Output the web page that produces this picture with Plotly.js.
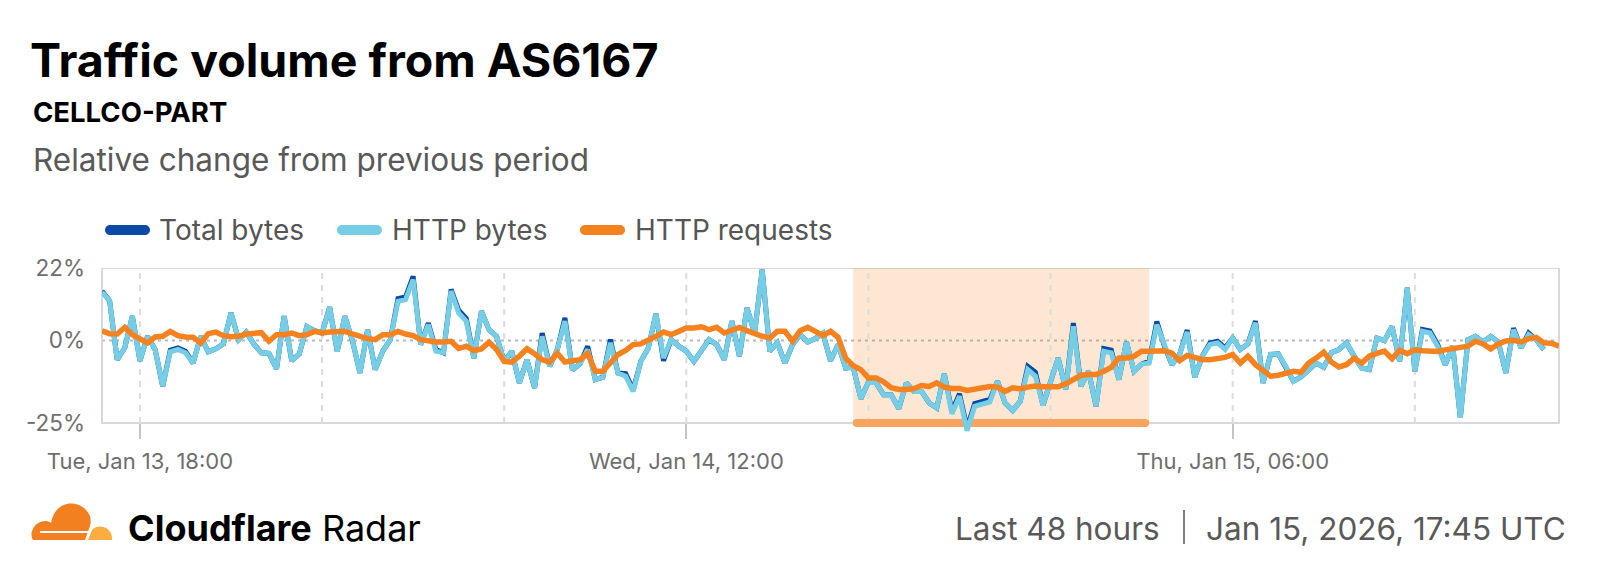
<!DOCTYPE html>
<html><head><meta charset="utf-8">
<script src="https://cdn.plot.ly/plotly-3.0.1.min.js"></script>
<style>html,body{margin:0;padding:0;background:#fff;}#chart{width:1600px;height:574px;}</style>
</head><body><div id="chart"></div>
<script>
// ---- data (15-minute steps starting Jan 13 16:45 UTC) ----
const START_UTC = Date.UTC(2026, 0, 13, 16, 45);
const STEP_MIN = 15;

const totalBytes = [
15.0,12.1,-5.8,-2.2,7.4,-6.1,1.3,-2.7,-13.8,-2.9,-2.2,-3.2,-6.8,1.3,-3.4,-2.5,-1.0,8.4,0.3,2.6,
-1.0,-3.7,-3.9,-8.6,7.4,-6.1,-4.0,4.3,3.0,2.3,10.1,-3.3,7.4,0.0,-9.8,3.3,-8.8,-3.2,0.3,12.7,
13.2,19.5,-1.2,5.3,-2.7,-3.7,15.5,9.2,6.7,-5.3,8.9,3.3,1.3,-6.3,-3.2,-12.8,-5.8,-14.3,2.3,-7.8,
-2.7,6.9,-8.9,-7.0,-1.7,-11.8,-11.1,0.3,-9.8,-10.0,-14.9,-6.3,-2.2,8.1,-6.1,0.3,-1.7,-3.2,-6.3,-3.2,
0.3,-1.2,-5.8,5.9,-4.7,9.9,2.3,21.5,-3.2,-0.7,-6.8,-1.2,1.8,-0.4,0.6,2.2,-6.1,-1.2,-8.3,-8.1,
-17.6,-12.5,-12.8,-16.4,-16.4,-20.6,-12.8,-15.4,-15.4,-18.9,-20.4,-10.1,-21.4,-16.1,-26.5,-19.1,-18.6,-17.8,-12.3,-18.9,
-21.2,-18.4,-7.8,-9.6,-19.6,-12.0,-5.3,-14.8,5.3,-13.8,-9.3,-19.9,-2.4,-2.9,-11.8,-0.4,-9.3,-7.1,-6.2,5.8,
-1.7,-7.3,-4.2,3.2,-11.1,-4.7,-0.7,-0.2,-2.2,0.8,-2.7,-1.0,5.9,-12.8,-4.2,-4.0,-7.8,-12.3,-11.0,-8.8,
-6.8,-8.1,-3.7,-2.7,-0.7,-4.7,-8.3,-8.8,0.8,0.0,4.3,-6.3,16.0,-9.3,3.4,2.9,-1.1,-7.3,-1.7,-23.4,
0.3,1.3,-0.4,1.3,-0.4,-9.8,3.8,-2.2,2.3,0.3,-2.7
];

const httpBytes = [
14.7,12.1,-5.8,-2.2,7.4,-6.1,1.3,-2.7,-13.8,-3.4,-2.7,-3.7,-6.8,1.3,-3.4,-2.5,-1.0,8.4,0.3,2.6,
-1.0,-3.7,-3.9,-8.6,7.4,-6.1,-4.0,4.3,3.0,2.3,10.1,-3.3,7.4,0.0,-9.8,3.3,-8.8,-3.2,0.3,11.9,
12.4,18.5,-1.2,4.8,-3.2,-3.7,15.0,8.4,5.9,-5.3,8.9,3.3,1.3,-6.3,-3.2,-12.8,-5.8,-14.3,1.3,-7.8,
-2.7,5.9,-8.9,-7.0,-2.7,-11.8,-11.1,-0.7,-9.8,-10.8,-15.4,-6.3,-2.2,8.1,-5.3,0.3,-1.7,-3.2,-6.3,-3.2,
0.3,-1.2,-5.8,5.9,-4.7,9.9,2.3,21.5,-3.2,-0.7,-6.8,-1.2,1.8,-0.4,0.6,2.2,-6.1,-1.2,-8.3,-8.1,
-17.6,-12.5,-12.8,-16.4,-16.4,-20.6,-12.8,-15.4,-15.4,-18.9,-20.4,-10.1,-22.2,-16.9,-27.3,-19.9,-19.4,-18.6,-12.3,-18.9,
-21.2,-18.4,-8.8,-10.8,-19.6,-12.0,-5.3,-14.8,4.3,-13.8,-9.3,-19.9,-3.2,-3.7,-11.8,-0.4,-9.3,-7.1,-6.8,4.8,
-1.7,-7.3,-4.2,2.6,-11.1,-4.7,-1.2,-0.7,-2.7,0.8,-2.7,-1.0,5.4,-12.8,-4.2,-4.0,-7.8,-12.3,-11.0,-8.8,
-6.8,-8.1,-3.7,-2.7,-0.7,-4.7,-8.3,-8.8,0.8,0.0,4.3,-6.3,16.0,-9.3,2.8,2.3,-1.7,-7.3,-1.7,-23.4,
0.3,1.3,-0.4,1.3,-0.4,-9.8,3.3,-2.2,1.8,0.3,-2.7
];

const httpRequests = [
3.0,2.1,2.0,4.0,1.8,0.6,-0.7,1.1,1.3,2.8,1.5,1.1,1.0,-0.7,2.1,2.6,1.5,1.2,1.3,2.0,
2.2,2.4,-0.2,1.8,1.8,2.3,1.5,1.8,2.8,2.3,2.6,2.8,2.8,2.0,1.1,0.6,0.3,1.8,1.8,2.8,
2.0,1.5,0.3,-0.2,-0.4,-0.4,-0.2,-2.4,-1.7,-3.0,-2.5,-0.5,-2.7,-6.3,-6.5,-4.7,-2.5,-4.0,-5.8,-6.5,
-3.8,-6.5,-6.3,-5.8,-3.9,-9.3,-9.3,-6.5,-4.2,-3.0,-1.2,-1.0,0.0,1.3,2.6,1.8,2.8,3.8,3.8,4.2,
3.3,4.0,2.3,3.2,4.0,3.0,2.1,1.3,0.8,2.8,2.8,-0.2,3.0,4.0,2.8,1.5,2.8,1.0,-5.3,-7.6,
-8.8,-11.3,-11.3,-12.5,-14.3,-14.8,-14.8,-14.5,-13.6,-13.9,-12.8,-14.1,-14.5,-14.5,-15.1,-14.8,-14.3,-13.9,-14.1,-15.4,
-14.3,-14.6,-14.1,-13.8,-14.0,-14.0,-14.0,-13.1,-11.8,-10.5,-10.3,-10.3,-9.3,-8.1,-5.3,-5.3,-4.7,-3.2,-3.2,-3.1,
-3.1,-3.8,-6.1,-4.5,-5.3,-5.7,-5.8,-5.6,-5.1,-4.2,-6.8,-4.7,-7.3,-9.1,-10.8,-10.5,-10.0,-9.3,-9.6,-6.8,
-5.3,-3.5,-6.5,-8.0,-7.3,-5.3,-6.8,-4.7,-3.9,-3.2,-5.5,-2.9,-4.0,-2.8,-3.1,-3.2,-3.3,-2.8,-2.5,-2.1,
-1.7,-0.2,-1.0,-2.5,-1.0,-0.1,0.1,-0.4,0.6,1.0,-0.7,-0.8,-1.7
];

const seriesNames  = ['Total bytes', 'HTTP bytes', 'HTTP requests'];
const seriesColors = ['#0a4aa6', '#76cde6', '#f6821f'];
const seriesWidths = [5, 5, 5.5];

const yTickVals = [22, 0, -25];
const yTickText = ['22%', '0%', '-25%'];
const xTickVals = ['2026-01-13 18:00', '2026-01-14 12:00', '2026-01-15 06:00'];
const xTickText = ['Tue, Jan 13, 18:00', 'Wed, Jan 14, 12:00', 'Thu, Jan 15, 06:00'];
const gridTimes = ['2026-01-13 18:00','2026-01-14 00:00','2026-01-14 06:00','2026-01-14 12:00',
                   '2026-01-14 18:00','2026-01-15 00:00','2026-01-15 06:00','2026-01-15 12:00'];
const highlightSpan = ['2026-01-14 17:30', '2026-01-15 03:15'];
const xRange = ['2026-01-13 16:45', '2026-01-15 16:45'];
const yFrame = [-25, 22];
const yRange = [-28, 22];

// ---- helpers ----
function fmt(ms){
  const d = new Date(ms), p = n => String(n).padStart(2,'0');
  return d.getUTCFullYear()+'-'+p(d.getUTCMonth()+1)+'-'+p(d.getUTCDate())+' '+p(d.getUTCHours())+':'+p(d.getUTCMinutes());
}
const timesFor = arr => arr.map((_, i) => fmt(START_UTC + i*STEP_MIN*60000));

const W = 1600, H = 574;
const M = {l: 102, r: 41, t: 268, b: 141};
const PW = W - M.l - M.r, PH = H - M.t - M.b;
const X = px => (px - M.l) / PW;          // page px -> paper x
const Y = py => (H - M.b - py) / PH;      // page py -> paper y
function path(cmds){
  return cmds.map(c => {
    const k = c[0], v = c.slice(1), out = [];
    for (let i = 0; i < v.length; i += 2) out.push(X(v[i]).toFixed(5) + ',' + Y(v[i+1]).toFixed(5));
    return k + out.join(' ');
  }).join(' ') + ' Z';
}
function pill(x0, yc, w, h){
  const r = h/2, k = 0.5523*r, x1 = x0 + w;
  return path([['M', x0+r, yc-r], ['L', x1-r, yc-r],
    ['C', x1-r+k, yc-r, x1, yc-k, x1, yc], ['C', x1, yc+k, x1-r+k, yc+r, x1-r, yc+r],
    ['L', x0+r, yc+r], ['C', x0+r-k, yc+r, x0, yc+k, x0, yc], ['C', x0, yc-k, x0+r-k, yc-r, x0+r, yc-r]]);
}

// ---- traces ----
const seriesData = [totalBytes, httpBytes, httpRequests];
const traces = seriesData.map((vals, i) => ({
  type: 'scatter', mode: 'lines', name: seriesNames[i],
  x: timesFor(vals), y: vals,
  line: {color: seriesColors[i], width: seriesWidths[i], shape: 'linear'},
  hoverinfo: 'skip'
}));

// ---- shapes ----
const FONT = 'Inter, "Noto Sans", sans-serif';
const shapes = [];
shapes.push({type:'rect', xref:'x', yref:'y', x0: highlightSpan[0], x1: highlightSpan[1], y0: yFrame[0], y1: yFrame[1],
  fillcolor:'rgba(246,130,31,0.2)', line:{width:0}, layer:'below'});
gridTimes.forEach(t => shapes.push({type:'line', xref:'x', yref:'y', x0:t, x1:t, y0:yFrame[0], y1:yFrame[1],
  line:{color:'#dcdcdc', width:2, dash:'6px,6px'}, layer:'below'}));
shapes.push({type:'line', xref:'paper', yref:'y', x0:0, x1:1, y0:0, y1:0,
  line:{color:'#b9b9b9', width:2, dash:'3px,4px'}, layer:'below'});
shapes.push({type:'rect', xref:'paper', yref:'y', x0:0, x1:1, y0:yFrame[0], y1:yFrame[1],
  line:{color:'#d9d9d9', width:2}, fillcolor:'rgba(0,0,0,0)', layer:'below'});
// highlight bar under the shaded span (rounded ends)
const capMs = 4 / (PW / (48*3600000));
const hs0 = Date.parse(highlightSpan[0].replace(' ','T')+':00Z'), hs1 = Date.parse(highlightSpan[1].replace(' ','T')+':00Z');
const barColor = '#f8a35e';
shapes.push({type:'line', xref:'x', yref:'y', x0: fmt(hs0+capMs), x1: fmt(hs1-capMs), y0: yFrame[0], y1: yFrame[0],
  line:{color:barColor, width:8}, layer:'below'});
[hs0+capMs, hs1-capMs].forEach(t => shapes.push({type:'circle', xref:'x', yref:'y', xsizemode:'pixel', ysizemode:'pixel',
  xanchor: fmt(t), yanchor: yFrame[0], x0:-4, x1:4, y0:-4, y1:4, fillcolor:barColor, line:{width:0}, layer:'below'}));

// legend (custom pills)
const legendSwatchX = [105, 337, 580], legendTextX = [157, 390, 633], legendY = 230;
seriesNames.forEach((n, i) => shapes.push({type:'path', xref:'paper', yref:'paper', path: pill(legendSwatchX[i], legendY, 45, 10),
  fillcolor: seriesColors[i], line:{width:0}}));

// logo
shapes.push({type:'path', xref:'paper', yref:'paper', fillcolor:'#f38020', line:{width:0}, path: path([
  ['M', 33, 540], ['C', 31, 537, 31, 532, 33, 529], ['C', 35, 524, 40, 521, 46, 521], ['C', 48, 521, 50, 522, 51, 523],
  ['C', 53, 511, 61, 503.5, 71, 503.5], ['C', 80, 503.5, 87, 509, 90, 516], ['C', 91, 520, 91, 523, 90, 526], ['L', 85, 540]])});
shapes.push({type:'path', xref:'paper', yref:'paper', fillcolor:'#fbad41', line:{width:0}, path: path([
  ['M', 88, 540], ['L', 92, 530], ['C', 94, 527.5, 97, 526.5, 100, 526.5], ['C', 107, 526.5, 112, 532, 112, 538], ['L', 112, 540]])});
shapes.push({type:'line', xref:'paper', yref:'paper', x0:X(40), x1:X(88), y0:Y(532), y1:Y(532), line:{color:'#ffffff', width:2}});
// footer separator
shapes.push({type:'line', xref:'paper', yref:'paper', x0:X(1184), x1:X(1184), y0:Y(510), y1:Y(544), line:{color:'#555555', width:1.5}});

// ---- annotations ----
const ann = (text, px, py, size, color, anchor, extra) => Object.assign({
  text, xref:'paper', yref:'paper', x: X(px), y: Y(py), xanchor: anchor || 'left', yanchor:'middle',
  showarrow:false, font:{family:FONT, size, color}}, extra || {});
const annotations = [
  ann('<b>CELLCO-PART</b>', 31, 112, 27.5, '#000000'),
  ann('Relative change from previous period', 31, 159, 31.5, '#595959'),
  ann('<b>Cloudflare</b> Radar', 126, 528, 36, '#000000'),
  ann('Last 48 hours', 1162, 528, 31.5, '#595959', 'right'),
  ann('Jan 15, 2026, 17:45 UTC', 1568, 528, 31.5, '#595959', 'right')
];
seriesNames.forEach((n, i) => annotations.push(ann(n, legendTextX[i], legendY, 28, '#555555')));

const layout = {
  width: W, height: H, margin: M,
  paper_bgcolor:'#ffffff', plot_bgcolor:'#ffffff',
  showlegend:false, hovermode:false,
  font:{family:FONT},
  title:{text:'<b>Traffic volume from AS6167</b>', xref:'container', yref:'container', x: 30/W, xanchor:'left',
         y: 1 - 61/H, yanchor:'middle', font:{family:FONT, size:46.5, color:'#000000'}},
  xaxis:{type:'date', range:xRange, tickvals:xTickVals, ticktext:xTickText, ticks:'outside', ticklen:15, tickwidth:2,
         tickcolor:'#c4c4c4', showgrid:false, showline:false, zeroline:false, anchor:'free', position:(yFrame[0]-yRange[0])/(yRange[1]-yRange[0]),
         tickfont:{family:FONT, size:22, color:'#6e6e6e'}, ticklabelstandoff:3, fixedrange:true},
  yaxis:{range:yRange, tickvals:yTickVals, ticktext:yTickText, ticks:'', showgrid:false, showline:false, zeroline:false,
         tickfont:{family:FONT, size:22.5, color:'#6e6e6e'}, ticklabelstandoff:16, fixedrange:true},
  shapes, annotations
};
Plotly.newPlot('chart', traces, layout, {staticPlot:true, displayModeBar:false});
</script></body></html>
